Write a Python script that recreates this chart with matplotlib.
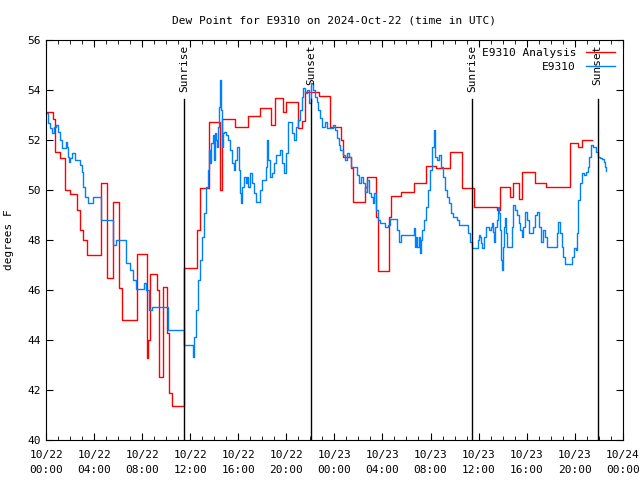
import matplotlib
matplotlib.use('Agg')
import matplotlib.pyplot as plt

plt.rcParams['font.family'] = ['DejaVu Sans Mono']

# hours since 2024-10-22 00:00 UTC
analysis_h = [0.00, 0.58, 0.75, 1.16, 1.58, 2.00, 2.58, 2.83, 3.08, 3.41, 4.58, 5.07, 5.57, 6.07, 6.32,
              7.57, 8.40, 8.48, 8.65, 9.23, 9.40, 9.73, 10.07, 10.23, 10.48, 11.48, 12.56, 12.81, 13.56,
              14.48, 14.64, 15.72, 16.80, 17.80, 18.72, 19.05, 19.72, 19.97, 20.97, 21.30, 21.55, 22.71,
              23.63, 24.54, 24.71, 25.37, 25.54, 26.54, 26.71, 27.45, 27.62, 28.54, 28.70, 29.53, 30.62,
              31.61, 32.45, 33.61, 34.61, 35.61, 37.52, 37.77, 38.60, 38.85, 39.35, 39.60, 40.68, 41.60,
              43.59, 44.26, 44.59, 45.42]
analysis_v = [53.12, 52.84, 51.52, 51.28, 50.00, 49.84, 49.20, 48.40, 48.00, 47.40, 50.28, 46.48, 49.52, 46.08, 44.80,
              47.44, 43.30, 44.00, 46.64, 46.00, 42.52, 46.12, 44.28, 41.88, 41.36, 46.88, 48.40, 50.08, 52.72,
              50.00, 52.84, 52.52, 52.96, 53.28, 52.60, 53.68, 53.12, 53.52, 52.48, 52.76, 53.92, 53.76,
              52.52, 52.00, 51.32, 50.88, 49.52, 50.12, 50.52, 48.92, 46.76, 48.92, 49.76, 49.92, 50.28,
              50.96, 50.88, 51.52, 50.08, 49.32, 49.20, 50.12, 49.72, 50.28, 49.64, 50.72, 50.28, 50.12,
              51.88, 51.72, 52.00, 52.00]

obs_h = [0.00, 0.17, 0.33, 0.50, 0.67, 0.83, 1.00, 1.16, 1.33, 1.50, 1.66, 1.75, 1.83, 1.91, 2.00, 2.16,
         2.41, 2.66, 2.83, 3.00, 3.08, 3.24, 3.49, 3.91, 4.49, 4.58, 4.74, 5.57, 5.82, 6.41, 6.66, 6.99,
         7.24, 7.49, 7.82, 8.15, 8.32, 8.57, 8.82, 10.07, 10.15, 11.31, 11.48, 12.23, 12.31, 12.48, 12.65,
         12.81, 12.98, 13.14, 13.31, 13.48, 13.56, 13.64, 13.73, 13.89, 13.98, 14.06, 14.14, 14.23, 14.31,
         14.39, 14.48, 14.56, 14.64, 14.73, 14.81, 14.98, 15.14, 15.31, 15.47, 15.64, 15.72, 15.89, 16.06,
         16.14, 16.22, 16.31, 16.47, 16.64, 16.72, 16.81, 16.97, 17.14, 17.30, 17.47, 17.80, 17.97, 18.30,
         18.39, 18.47, 18.64, 18.80, 18.97, 19.13, 19.47, 19.63, 19.80, 19.97, 20.13, 20.47, 20.63, 20.80,
         20.97, 21.13, 21.30, 21.38, 21.55, 21.71, 21.88, 22.05, 22.21, 22.38, 22.55, 22.63, 22.80, 22.96,
         23.21, 23.38, 23.88, 24.04, 24.21, 24.38, 24.46, 24.71, 24.88, 25.04, 25.21, 25.37, 25.87, 26.04,
         26.21, 26.37, 26.54, 26.71, 26.87, 27.04, 27.20, 27.29, 27.45, 27.62, 27.79, 28.20, 28.45, 28.62,
         29.20, 29.37, 29.53, 30.62, 30.70, 30.78, 30.87, 31.03, 31.11, 31.20, 31.28, 31.45, 31.61, 31.78,
         31.95, 32.11, 32.28, 32.36, 32.53, 32.70, 32.86, 33.03, 33.19, 33.36, 33.53, 33.69, 33.86, 34.19,
         34.36, 34.53, 35.11, 35.27, 35.44, 35.94, 36.02, 36.11, 36.19, 36.27, 36.44, 36.61, 36.86, 37.02,
         37.10, 37.19, 37.27, 37.35, 37.52, 37.60, 37.69, 37.77, 37.85, 37.94, 38.02, 38.10, 38.19, 38.27,
         38.35, 38.77, 38.85, 39.02, 39.18, 39.35, 39.43, 39.60, 39.68, 39.85, 40.02, 40.18, 40.52, 40.68,
         40.85, 41.01, 41.18, 41.35, 41.51, 41.68, 42.51, 42.60, 42.76, 42.93, 43.01, 43.18, 43.76, 43.93,
         44.09, 44.18, 44.26, 44.43, 44.59, 44.76, 44.93, 45.09, 45.17, 45.34, 45.51, 45.76, 45.92, 46.09,
         46.26, 46.42, 46.51, 46.59]
obs_v = [53.08, 52.68, 52.48, 52.28, 52.52, 52.60, 52.32, 52.00, 51.68, 51.68, 51.92, 51.72, 51.32, 51.12, 51.28, 51.48,
         51.20, 51.20, 51.00, 50.72, 50.12, 49.72, 49.48, 49.72, 49.72, 48.80, 48.80, 47.80, 48.00, 48.00, 47.08, 46.80,
         46.40, 46.04, 46.04, 46.28, 46.00, 45.20, 45.32, 45.32, 44.40, 44.40, 43.80, 43.32, 44.12, 45.20, 46.40,
         47.20, 48.12, 49.08, 50.12, 50.80, 51.60, 51.08, 51.88, 52.20, 51.20, 52.28, 52.00, 51.72, 52.52,
         53.32, 54.40, 53.20, 51.72, 52.28, 52.32, 52.20, 52.00, 51.60, 51.08, 50.80, 51.20, 51.72, 50.80,
         49.88, 49.48, 50.12, 50.52, 50.28, 50.52, 50.12, 50.68, 50.28, 49.88, 49.52, 50.00, 50.40, 50.92,
         52.00, 51.20, 50.52, 50.68, 51.08, 51.40, 51.60, 51.08, 50.68, 51.48, 52.72, 52.28, 52.00, 52.52,
         52.80, 53.20, 53.72, 54.08, 53.88, 54.00, 53.48, 54.28, 54.00, 53.72, 53.52, 53.20, 52.88, 52.52,
         52.72, 52.48, 52.60, 52.40, 52.08, 51.80, 51.60, 51.40, 51.20, 51.48, 51.32, 50.92, 50.60, 50.28,
         50.52, 50.28, 49.92, 50.40, 49.88, 49.72, 49.48, 49.88, 49.20, 48.80, 48.68, 48.52, 48.60, 48.84,
         48.40, 47.92, 48.20, 48.48, 47.72, 48.12, 47.72, 48.12, 47.48, 48.00, 48.40, 48.80, 49.32, 50.00,
         50.80, 51.72, 52.40, 51.32, 51.20, 51.40, 50.92, 50.52, 50.00, 49.72, 49.48, 49.08, 48.92, 48.80,
         48.60, 48.60, 48.28, 47.92, 47.68, 48.00, 48.20, 48.12, 47.88, 47.68, 48.12, 48.52, 48.40, 48.52,
         48.68, 48.32, 47.92, 48.52, 48.80, 49.32, 49.08, 48.40, 47.20, 46.80, 47.72, 48.52, 48.88, 48.28,
         47.72, 48.52, 49.40, 49.20, 49.00, 48.68, 48.40, 48.12, 48.52, 49.12, 48.80, 48.28, 48.52, 49.00,
         49.12, 48.52, 47.92, 48.40, 48.12, 47.72, 48.28, 48.72, 48.28, 47.72, 47.32, 47.04, 47.32, 47.68,
         47.60, 48.28, 49.60, 50.28, 50.68, 50.60, 50.72, 50.92, 51.32, 51.80, 51.72, 51.52, 51.32, 51.28,
         51.24, 51.12, 50.92, 50.76]

sun_h = [11.48, 22.05, 35.44, 45.92]
sun_labels = ['Sunrise', 'Sunset', 'Sunrise', 'Sunset']

xtick_labels = ['10/22\n00:00', '10/22\n04:00', '10/22\n08:00', '10/22\n12:00', '10/22\n16:00',
                '10/22\n20:00', '10/23\n00:00', '10/23\n04:00', '10/23\n08:00', '10/23\n12:00',
                '10/23\n16:00', '10/23\n20:00', '10/24\n00:00']

fig = plt.figure(figsize=(6.4, 4.8), dpi=100)
ax = fig.add_axes([0.072, 0.0833, 0.901, 0.8334])

ax.plot(analysis_h, analysis_v, color='#ff0000', lw=1, drawstyle='steps-post', label='E9310 Analysis')
ax.plot(obs_h, obs_v, color='#0080ff', lw=1, drawstyle='steps-post', label='E9310')

for h, lab in zip(sun_h, sun_labels):
    ax.axvline(h, ymin=0, ymax=0.8525, color='black', lw=1)
    ax.text(h, 55.8, lab, rotation=90, ha='center', va='top', fontsize=8)

ax.set_xlim(0, 48)
ax.set_ylim(40, 56)
ax.set_xticks(range(0, 49, 4))
ax.set_xticklabels(xtick_labels, linespacing=1.6)
ax.set_xticks(range(0, 49), minor=True)
ax.set_yticks(range(40, 57, 2))
ax.tick_params(which='both', direction='in', top=True, right=True, labelsize=8)
ax.tick_params(which='major', length=5)
ax.tick_params(which='minor', length=3)
ax.tick_params(axis='x', which='major', pad=7)
ax.set_ylabel('degrees F', fontsize=8, labelpad=10)
ax.set_title('Dew Point for E9310 on 2024-Oct-22 (time in UTC)', fontsize=8, pad=12)
ax.legend(loc='upper right', frameon=False, markerfirst=False, fontsize=8,
          handlelength=2.6, borderaxespad=0.3, labelspacing=0.35, handletextpad=0.9)

fig.savefig('out.png', dpi=100)
